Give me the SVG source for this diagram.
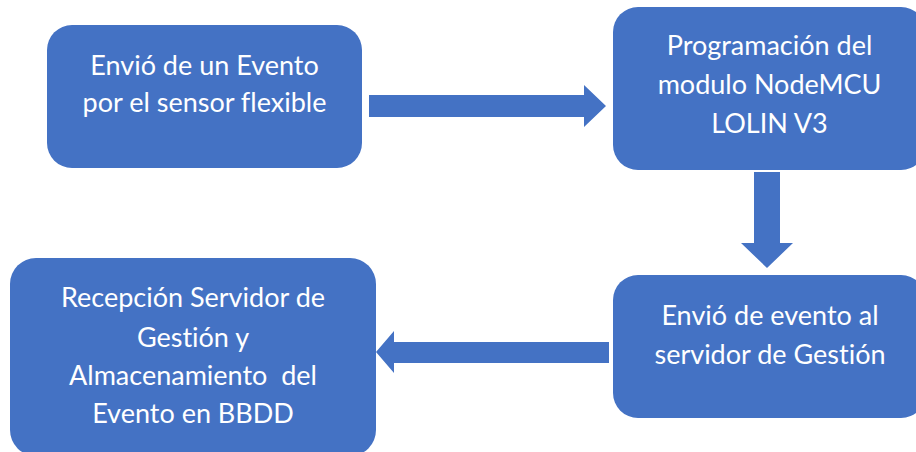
<svg xmlns="http://www.w3.org/2000/svg" width="916" height="452" viewBox="0 0 916 452">
<style>
.box{fill:#4472C4;}
.lbl{fill:#FFFFFF;font-family:"Lato","Liberation Sans",sans-serif;font-size:27px;text-anchor:middle;font-variant-ligatures:none;font-feature-settings:"liga" 0;}
.arr{fill:#4472C4;}
</style>
<rect width="916" height="452" fill="#FFFFFF"/>
<g id="connectors">
<polygon class="arr" points="369,95 584,95 584,85 606,106 584,127 584,117 369,117"/>
<polygon class="arr" points="754,172 780,172 780,243 793,243 767,268 741,243 754,243"/>
<polygon class="arr" points="609,342 394,342 394,331 376,352 394,373 394,363 609,363"/>
</g>
<g id="node1">
<rect class="box" x="47" y="25" width="315" height="143" rx="25" ry="25"/>
<text class="lbl" x="204.5" y="75">Envió de un Evento</text>
<text class="lbl" x="204.5" y="112">por el sensor flexible</text>
</g>
<g id="node2">
<rect class="box" x="613" y="7" width="313" height="163" rx="25" ry="25"/>
<text class="lbl" x="769.5" y="55">Programación del</text>
<text class="lbl" x="769.5" y="94">modulo NodeMCU</text>
<text class="lbl" x="769.5" y="133">LOLIN V3</text>
</g>
<g id="node3">
<rect class="box" x="613" y="275" width="313" height="143" rx="25" ry="25"/>
<text class="lbl" x="770" y="325">Envió de evento al</text>
<text class="lbl" x="770" y="364">servidor de Gestión</text>
</g>
<g id="node4">
<rect class="box" x="10" y="258" width="366" height="198" rx="26" ry="26"/>
<text class="lbl" x="193" y="307">Recepción Servidor de</text>
<text class="lbl" x="193" y="347">Gestión y</text>
<text class="lbl" x="193" y="385" xml:space="preserve">Almacenamiento  del</text>
<text class="lbl" x="193" y="423">Evento en BBDD</text>
</g>
</svg>
